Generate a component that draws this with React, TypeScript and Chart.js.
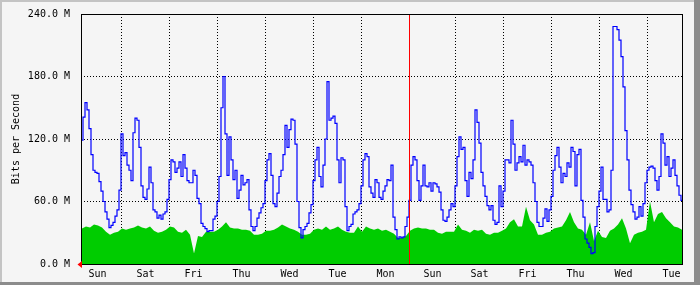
import React, { useEffect, useRef } from "react";
import { Chart, registerables } from "chart.js";

Chart.register(...registerables);

// hours counted from the left edge of the plot (newest data at the left)
const X_MAX_HOURS = 300.5;
const FIRST_SAMPLE_HOUR = 0.5;
const IN_STEP_HOURS = 2; // green series sampled every 2 h
const OUT_STEP_HOURS = 1; // blue series sampled every 1 h

// Incoming traffic (green area), M bits/s
const inTraffic = [
  34, 36, 35, 38, 37, 35, 31, 28, 30, 31, 34, 33, 34, 35, 37, 35, 34, 36, 32,
  30, 31, 33, 36, 35, 31, 30, 33, 28, 10, 27, 26, 31, 31, 31, 33, 36, 40, 35,
  34, 34, 33, 33, 32, 28, 28, 29, 32, 32, 33, 35, 38, 36, 34, 33, 31, 28,
  28, 29, 33, 34, 33, 36, 33, 34, 36, 33, 31, 30, 30, 36, 31, 36, 34, 33, 34,
  32, 33, 31, 29, 25, 25, 27, 32, 34, 35, 34, 34, 33, 33, 30, 29, 31, 31, 31,
  38, 33, 32, 30, 33, 32, 33, 29, 28, 30, 30, 32, 34, 40, 43, 36, 36, 55, 42,
  38, 28, 28, 30, 31, 34, 35, 36, 42, 50, 40, 34, 33, 28, 40, 22, 32, 26,
  25, 32, 34, 38, 44, 34, 20, 28, 30, 31, 33, 60, 40, 48, 50, 44, 40, 36, 35, 33,
];

// Outgoing traffic (blue line), M bits/s
const outTraffic = [
  119, 141, 155, 148, 130, 105, 90, 88, 87, 79, 70, 60, 50, 43, 35, 37, 40, 46, 52, 71,
  125, 104, 107, 95, 90, 80, 126, 140, 138, 112, 75, 64, 62, 72, 93, 78, 52,
  50, 44, 47, 43, 48, 50, 62, 81, 100, 98, 88, 92, 98, 84, 105, 92, 80, 78, 78, 90,
  85, 63, 58, 39, 36, 34, 31, 32, 32, 43, 46, 60, 84, 150, 180, 125, 85,
  122, 100, 81, 90, 63, 71, 85, 76, 78, 81, 52, 36, 32, 36, 44, 49, 54, 58, 80, 100,
  106, 85, 58, 55, 68, 84, 90, 105, 133, 112, 129, 139, 138, 115, 60, 35, 25, 33,
  36, 39, 49, 57, 80, 100, 112, 84, 74, 95, 120, 175, 138, 140, 142, 135, 100, 78, 102, 100,
  55, 32, 36, 38, 48, 50, 52, 58, 75, 100, 106, 103, 74, 68, 64, 81, 78, 64,
  62, 70, 75, 81, 80, 95, 45, 33, 24, 26, 25, 26, 36, 45, 61, 95, 103, 100, 80, 61,
  75, 95, 75, 74, 78, 70, 78, 77, 74, 69, 52, 42, 41, 45, 52, 58, 55,
  75, 103, 122, 110, 112, 80, 65, 88, 82, 100, 148, 136, 116, 88, 75, 65, 56, 52, 56, 42,
  38, 40, 75, 55, 70, 100, 100, 97, 138, 115, 90, 97, 103, 98, 114, 95, 100, 98,
  95, 78, 60, 40, 36, 36, 44, 53, 41, 52, 65, 90, 104, 112, 93, 78, 87, 84, 97, 93,
  112, 108, 75, 105, 110, 61, 45, 24, 20, 16, 10, 11, 36, 55, 70, 93, 62,
  62, 50, 52, 90, 228, 228, 225, 215, 199, 170, 128, 100, 71, 57, 50, 43, 45, 55, 46, 58,
  78, 90, 93, 94, 92, 80, 71, 84, 125, 116, 95, 103, 84, 92, 100, 85, 75, 66, 61,
];

const dayLabels = ["Sun", "Sat", "Fri", "Thu", "Wed", "Tue", "Mon", "Sun", "Sat", "Fri", "Thu", "Wed", "Tue"];
const dayLabelHours = [8.25, 32.25, 56.25, 80.25, 104.25, 128.25, 152.25, 175.75, 199.25, 223.25, 247.25, 271.25, 295.25];
const dayBoundaryHours = [20.25, 44.25, 68.25, 92.25, 116.25, 140.25, 187.25, 211.25, 235.25, 259.25, 283.25];
const weekMarkerHours = [164.25];
const yTickValues = [0, 60, 120, 180, 240];

const FONT = { family: "'DejaVu Sans Mono', monospace", size: 10 };

const framePlugin = {
  id: "mrtgFrame",
  beforeDraw(chart: any) {
    const { ctx, width, height } = chart;
    ctx.save();
    ctx.fillStyle = "#f5f5f5";
    ctx.fillRect(0, 0, width, height);
    ctx.fillStyle = "#c4c4c4";
    ctx.fillRect(0, 0, width, 2);
    ctx.fillRect(0, 0, 2, height);
    ctx.fillStyle = "#8c8c8c";
    ctx.fillRect(0, height - 3, width, 3);
    ctx.fillRect(width - 6, 0, 6, height);
    ctx.restore();
  },
  afterDraw(chart: any) {
    const { ctx, chartArea } = chart;
    const { left, right, top, bottom } = chartArea;
    const xScale = chart.scales.x;
    ctx.save();
    ctx.strokeStyle = "#ff0000";
    ctx.lineWidth = 1;
    ctx.setLineDash([]);
    weekMarkerHours.forEach((h) => {
      const px = Math.round(xScale.getPixelForValue(h) - 0.5) + 0.5;
      ctx.beginPath();
      ctx.moveTo(px, top);
      ctx.lineTo(px, bottom);
      ctx.stroke();
    });
    ctx.strokeStyle = "#000";
    ctx.strokeRect(left + 0.5, top + 0.5, right - left, bottom - top);
    const y0 = chart.scales.y.getPixelForValue(0);
    ctx.fillStyle = "#ff0000";
    ctx.beginPath();
    ctx.moveTo(left - 3.5, y0 + 0.5);
    ctx.lineTo(left + 1, y0 - 3);
    ctx.lineTo(left + 1, y0 + 4);
    ctx.closePath();
    ctx.fill();
    ctx.restore();
  },
};

export default function App() {
  const canvasRef = useRef<HTMLCanvasElement | null>(null);

  useEffect(() => {
    const canvas = canvasRef.current;
    if (!canvas) return;
    const toPoints = (arr: number[], step: number) =>
      arr.map((v, i) => ({ x: FIRST_SAMPLE_HOUR + i * step, y: v }));

    const chart = new Chart(canvas, {
      type: "line",
      data: {
        datasets: [
          {
            label: "Out",
            data: toPoints(outTraffic, OUT_STEP_HOURS),
            borderColor: "#0000ff",
            borderWidth: 1.2,
            pointRadius: 0,
            stepped: "middle",
            fill: false,
            xAxisID: "x",
            yAxisID: "y",
            order: 0,
          },
          {
            label: "In",
            data: toPoints(inTraffic, IN_STEP_HOURS),
            borderColor: "#00cc00",
            backgroundColor: "#00cc00",
            borderWidth: 0,
            pointRadius: 0,
            tension: 0,
            fill: "origin",
            xAxisID: "x",
            yAxisID: "y",
            order: 1,
          },
        ],
      },
      options: {
        responsive: false,
        animation: false,
        devicePixelRatio: 1,
        layout: { padding: { left: 0, right: 18, top: 14, bottom: 0 } },
        plugins: { legend: { display: false }, tooltip: { enabled: false } },
        scales: {
          x: {
            type: "linear",
            position: "bottom",
            min: 0,
            max: X_MAX_HOURS,
            afterBuildTicks: (s: any) => {
              s.ticks = dayLabelHours.map((v) => ({ value: v }));
            },
            ticks: {
              autoSkip: false,
              maxRotation: 0,
              minRotation: 0,
              padding: 4,
              color: "#000",
              font: FONT,
              callback: (_v: any, i: number) => dayLabels[i],
            },
            grid: { display: false, drawTicks: false },
            border: { display: false },
            afterFit: (s: any) => {
              s.height = 21;
              s.paddingLeft = 0;
              s.paddingRight = 0;
            },
          },
          xDays: {
            type: "linear",
            position: "bottom",
            min: 0,
            max: X_MAX_HOURS,
            z: 1,
            afterBuildTicks: (s: any) => {
              s.ticks = dayBoundaryHours.map((v) => ({ value: v }));
            },
            ticks: { display: false },
            grid: { display: true, color: "#000", lineWidth: 1, drawTicks: false },
            border: { display: false, dash: [1, 2] },
            afterFit: (s: any) => {
              s.height = 0;
              s.paddingLeft = 0;
              s.paddingRight = 0;
            },
          },
          y: {
            type: "linear",
            position: "left",
            min: 0,
            max: 240,
            z: 1,
            afterBuildTicks: (s: any) => {
              s.ticks = yTickValues.map((v) => ({ value: v }));
            },
            ticks: {
              padding: 11,
              color: "#000",
              font: FONT,
              callback: (v: any) => Number(v).toFixed(1) + " M",
            },
            grid: { display: true, color: "#000", drawTicks: false },
            border: { display: false, dash: [1, 2] },
            title: {
              display: true,
              text: "Bits per Second",
              color: "#000",
              font: FONT,
              padding: { top: 10, bottom: 0 },
            },
            afterFit: (s: any) => {
              s.width = 81;
              s.paddingTop = 0;
              s.paddingBottom = 0;
            },
          },
        },
      } as any,
      plugins: [framePlugin],
    });
    return () => chart.destroy();
  }, []);

  return (
    <div style={{ position: "absolute", left: 0, top: 0, width: 700, height: 285 }}>
      <canvas ref={canvasRef} width={700} height={285} style={{ width: 700, height: 285, display: "block" }} />
    </div>
  );
}
